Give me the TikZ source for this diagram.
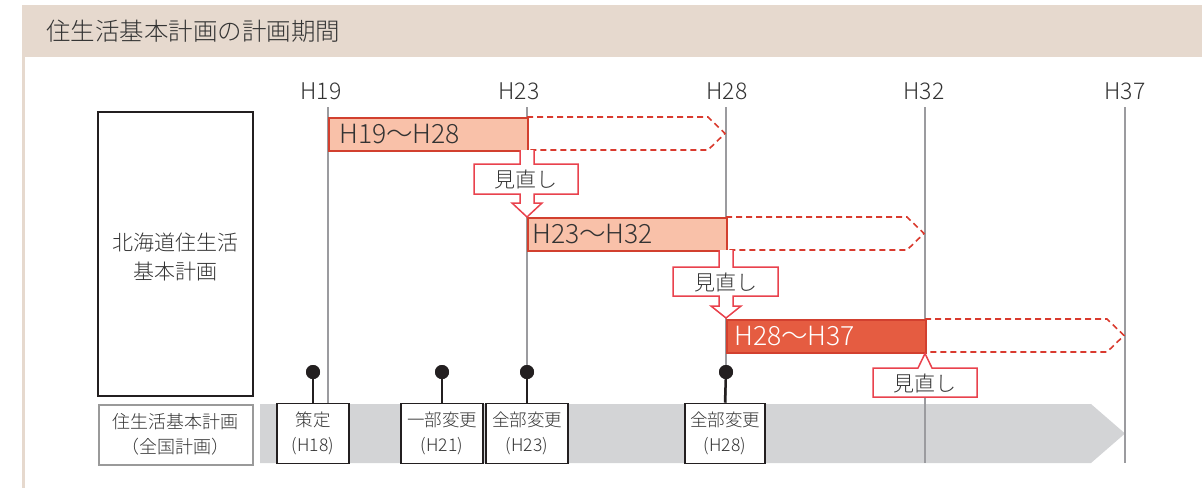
\documentclass[tikz,border=0pt]{standalone}
\usepackage{fontspec}
\IfFontExistsTF{Noto Sans CJK JP Light}{\setmainfont{Noto Sans CJK JP Light}}{\setmainfont{Noto Sans CJK JP}}
\definecolor{headerbeige}{HTML}{E6D9CE}
\definecolor{linegray}{HTML}{9B9B9F}
\definecolor{barfill}{HTML}{F9C1A9}
\definecolor{barborder}{HTML}{D2402F}
\definecolor{barthree}{HTML}{E55C41}
\definecolor{dashred}{HTML}{D93A2E}
\definecolor{calloutred}{HTML}{E9424D}
\definecolor{bandgray}{HTML}{D3D4D6}
\definecolor{txtgray}{HTML}{333333}
\definecolor{dotblack}{HTML}{231F20}
\definecolor{boxgray}{HTML}{9A9A9A}
\tikzset{
  vline/.style={draw=linegray, line width=1.8pt},
  yearlbl/.style={text=txtgray, font=\fontsize{23}{27}\selectfont, inner sep=0pt},
  barbox/.style={draw=barborder, fill=barfill, line width=1.8pt, inner sep=0pt, anchor=north west},
  bartxt/.style={anchor=west, text=txtgray, font=\fontsize{26.5}{30}\selectfont, inner sep=0pt},
  extpath/.style={draw=dashred, dash pattern=on 6pt off 4pt, line width=1.6pt},
  callout/.style={draw=calloutred, fill=white, line width=1.5pt, line join=miter},
  callouttxt/.style={text=txtgray, font=\fontsize{21}{24}\selectfont, inner sep=0pt},
  evdot/.style={circle, fill=dotblack, inner sep=0pt, minimum size=14pt},
  evbox/.style={draw=dotblack, fill=white, line width=1.8pt, minimum height=60pt, inner sep=0pt,
    align=center, text=txtgray, font=\fontsize{17.5}{25}\selectfont},
  stemline/.style={draw=dotblack, line width=2.5pt},
}
\begin{document}
\begin{tikzpicture}[x=1pt, y=-1pt]
\useasboundingbox (0,0) rectangle (1202,488);
% frame
\fill[headerbeige] (22,5) rectangle (1202,57);
\fill[headerbeige] (22,57) rectangle (25,488);
\node[anchor=west, inner sep=0pt, text=txtgray, font=\fontsize{24.5}{28}\selectfont] (title) at (46,31) {住生活基本計画の計画期間};

% gray band (national plan timeline)
\fill[bandgray] (260,404) -- (1091,404) -- (1125,433.5) -- (1091,463) -- (260,463) -- cycle;

% year lines
\foreach \nm/\xx/\lx in {19/328/321, 23/527/519, 28/726/727, 32/925/924, 37/1125/1125}{
  \coordinate (t\nm) at (\xx,107);
  \coordinate (b\nm) at (\xx,463);
  \draw[vline] (t\nm) -- (b\nm);
  \node[yearlbl] (l\nm) at (\lx,91) {H\nm};
}

% left boxes
\node[draw=dotblack, line width=1.8pt, minimum width=155pt, minimum height=284pt, inner sep=0pt, anchor=north west] (hok) at (97,111) {};
\node[align=center, text=txtgray, font=\fontsize{21}{29}\selectfont, inner sep=0pt] (hoktxt) at (175,257) {北海道住生活\\基本計画};
\node[draw=boxgray, line width=1.5pt, minimum width=154pt, minimum height=60pt, inner sep=0pt, anchor=north west,
  align=center, text=txtgray, font=\fontsize{18}{25}\selectfont] (nat) at (98,404) {住生活基本計画\\（全国計画）};

% extensions (dashed)
\coordinate (e1a) at (527,117); \coordinate (e1b) at (708,117); \coordinate (e1t) at (725,133.5);
\coordinate (e1c) at (708,150); \coordinate (e1d) at (527,150);
\draw[extpath] (e1a) -- (e1b) -- (e1t) -- (e1c) -- (e1d);
\coordinate (e2a) at (726,217); \coordinate (e2b) at (907,217); \coordinate (e2t) at (924,233.5);
\coordinate (e2c) at (907,250); \coordinate (e2d) at (726,250);
\draw[extpath] (e2a) -- (e2b) -- (e2t) -- (e2c) -- (e2d);
\coordinate (e3a) at (925,319); \coordinate (e3b) at (1107,319); \coordinate (e3t) at (1124,335.5);
\coordinate (e3c) at (1107,352); \coordinate (e3d) at (925,352);
\draw[extpath] (e3a) -- (e3b) -- (e3t) -- (e3c) -- (e3d);

% bars
\node[barbox, minimum width=199pt, minimum height=33pt] (bar1) at (328,117) {};
\node[bartxt] (bar1t) at (339,134) {H19〜H28};
\node[barbox, minimum width=199pt, minimum height=33pt] (bar2) at (527,217) {};
\node[bartxt] (bar2t) at (532,234) {H23〜H32};
\node[barbox, fill=barthree, minimum width=199pt, minimum height=33pt] (bar3) at (726,319) {};
\node[bartxt, text=white] (bar3t) at (734,336) {H28〜H37};

% callout 1 (review arrow H23)
\draw[callout] (520,150) -- (520,164) -- (474,164) -- (474,194) -- (520,194) -- (520,203) -- (512,203)
  -- (527,217) -- (542,203) -- (534,203) -- (534,194) -- (578,194) -- (578,164) -- (534,164) -- (534,150);
\node[callouttxt] (rev1) at (526,179.5) {見直し};
% callout 2 (review arrow H28)
\draw[callout] (719,250) -- (719,267) -- (673,267) -- (673,296) -- (719,296) -- (719,306) -- (711,306)
  -- (726,318) -- (741,306) -- (733,306) -- (733,296) -- (778,296) -- (778,267) -- (733,267) -- (733,250);
\node[callouttxt] (rev2) at (725.5,282) {見直し};
% callout 3 (speech bubble at H32)
\draw[callout] (873,368) -- (918,368) -- (925,353.5) -- (932,368) -- (977,368) -- (977,397) -- (873,397) -- cycle;
\node[callouttxt] (rev3) at (925,383) {見直し};

% events
\node[evdot] (d18) at (313,372) {};
\node[evbox, minimum width=72pt] (ev18) at (313,433.5) {策定\\(H18)};
\draw[stemline] (d18.center) -- (ev18.north);
\node[evdot] (d21) at (442,372) {};
\node[evbox, minimum width=82pt] (ev21) at (442,433.5) {一部変更\\(H21)};
\draw[stemline] (d21.center) -- (ev21.north);
\node[evdot] (d23) at (527,372) {};
\node[evbox, minimum width=82pt] (ev23) at (527,433.5) {全部変更\\(H23)};
\draw[stemline] (d23.center) -- (ev23.north);
\node[evdot] (d28) at (726,372) {};
\node[evbox, minimum width=80pt] (ev28) at (725,433.5) {全部変更\\(H28)};
\draw[stemline] (d28.center) -- (ev28.north);
\node[evdot] at (d18) {};
\node[evdot] at (d21) {};
\node[evdot] at (d23) {};
\node[evdot] at (d28) {};
\end{tikzpicture}
\end{document}
